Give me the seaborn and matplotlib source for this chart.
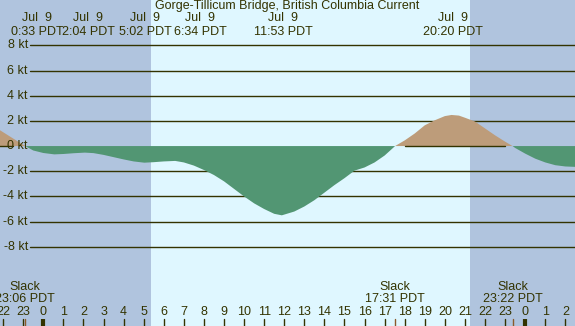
import numpy as np
import pandas as pd
import matplotlib
matplotlib.use("Agg")
import matplotlib.pyplot as plt
import seaborn as sns

# ================================
# DATA (hours from midnight Jul 9, current in knots)
# ================================
hours = [-2.5, -2.0, -1.5, -0.9, -0.5, 0.0, 0.55, 1.0, 1.5, 2.07, 2.5, 3.0, 3.5,
         4.0, 4.5, 5.03, 5.5, 6.0, 6.57, 7.0, 7.5, 8.0, 8.5, 9.0, 9.5, 10.0,
         10.5, 11.0, 11.5, 11.88, 12.5, 13.0, 13.5, 14.0, 14.5, 15.0, 15.5,
         16.0, 16.5, 17.0, 17.52, 18.0, 18.5, 19.0, 19.5, 20.0, 20.33, 20.7,
         21.0, 21.5, 22.0, 22.5, 23.0, 23.37, 23.5, 24.0, 24.5, 25.0, 25.5,
         26.0, 26.6]
speed = [1.6, 1.1, 0.6, 0.0, -0.35, -0.55, -0.66, -0.63, -0.57, -0.52, -0.56,
         -0.7, -0.88, -1.06, -1.22, -1.32, -1.28, -1.22, -1.18, -1.3, -1.55,
         -1.9, -2.3, -2.8, -3.4, -4.0, -4.55, -5.0, -5.38, -5.5, -5.2, -4.8,
         -4.3, -3.7, -3.1, -2.55, -1.95, -1.7, -1.3, -0.75, 0.0, 0.45, 1.0,
         1.65, 2.05, 2.38, 2.47, 2.42, 2.25, 1.95, 1.4, 0.85, 0.35, 0.0,
         -0.15, -0.6, -1.0, -1.3, -1.52, -1.62, -1.66]

event_hours = [0.55, 2.07, 5.03, 6.57, 11.88, 20.33]
event_labels = ["0:33 PDT", "2:04 PDT", "5:02 PDT", "6:34 PDT", "11:53 PDT", "20:20 PDT"]
slack_hours = [-0.9, 17.52, 23.37]
slack_labels = ["23:06 PDT", "17:31 PDT", "23:22 PDT"]
sunrise, sunset = 5.36, 21.25
kt_ticks = [-8, -6, -4, -2, 0, 2, 4, 6, 8]
hour_ticks = list(range(-2, 27))

title = "Gorge-Tillicum Bridge, British Columbia Current"

# ================================
# STYLE
# ================================
night = "#B0C4DE"
day = "#DFF7FF"
ebb = "#529673"
flood = "#BD9C7A"
ink = "#333300"

sns.set_style("white")
plt.rcParams["font.family"] = ["Liberation Sans", "DejaVu Sans"]

df = pd.DataFrame({"hour": hours, "kt": speed})
h = df["hour"].to_numpy()
v = df["kt"].to_numpy()

fig = plt.figure(figsize=(5.75, 3.26), dpi=100)
ax = fig.add_axes([0, 0, 1, 1])
x0, x1 = -2.156, 26.48
ax.set_xlim(x0, x1)
ax.set_ylim(-14.29, 11.6)
ax.axis("off")

# day / night background
ax.axvspan(x0, sunrise, color=night, zorder=0, lw=0)
ax.axvspan(sunrise, sunset, color=day, zorder=0, lw=0)
ax.axvspan(sunset, x1, color=night, zorder=0, lw=0)

# grid lines + kt labels
gx = x0 + 30 / 20.08
for k in kt_ticks:
    if k != 0:
        ax.plot([gx, x1], [k, k], color=ink, lw=1, zorder=1)
    ax.text(gx - 0.1, k, f"{k} kt", ha="right", va="center", fontsize=9, color=ink)

# current curve
ax.fill_between(h, v, 0, where=v >= 0, interpolate=True, color=flood, lw=0, zorder=2)
ax.fill_between(h, v, 0, where=v <= 0, interpolate=True, color=ebb, lw=0, zorder=2)
sns.lineplot(data=df, x="hour", y="kt", ax=ax, color=ebb, lw=0.0, zorder=2)
ax.plot(h, np.where(v > 0, 0, np.nan), color=ink, lw=1, zorder=3)

# top text
ax.text((x0 + x1) / 2, 11.6, title, ha="center", va="top", fontsize=9, color=ink)
label_shift = [-0.84, 0.18, 0.03, 1.23, 0.06, 0.07]
for t, lab, s in zip(event_hours, event_labels, label_shift):
    ax.text(t + s, 10.15, "Jul  9", ha="center", va="center", fontsize=9, color=ink)
    ax.text(t + s, 9.05, lab, ha="center", va="center", fontsize=9, color=ink)

# slack labels
for t, lab in zip(slack_hours, slack_labels):
    ax.text(t, -11.2, "Slack", ha="center", va="center", fontsize=9, color=ink)
    ax.text(t, -12.15, lab, ha="center", va="center", fontsize=9, color=ink)

# hour ticks
for hr in hour_ticks:
    ax.text(hr, -13.15, str(hr % 24), ha="center", va="center", fontsize=9, color=ink)
    if hr % 24 == 0:
        ax.plot([hr, hr], [-14.29, -13.75], color=ink, lw=3, zorder=3,
                solid_capstyle="butt")
    else:
        ax.plot([hr, hr], [-14.29, -13.7], color=ink, lw=1, zorder=3)
for t in slack_hours:
    ax.plot([t, t], [-14.29, -13.7], color="#8B5A2B", lw=1, zorder=3)

fig.savefig("out.png", dpi=100)
